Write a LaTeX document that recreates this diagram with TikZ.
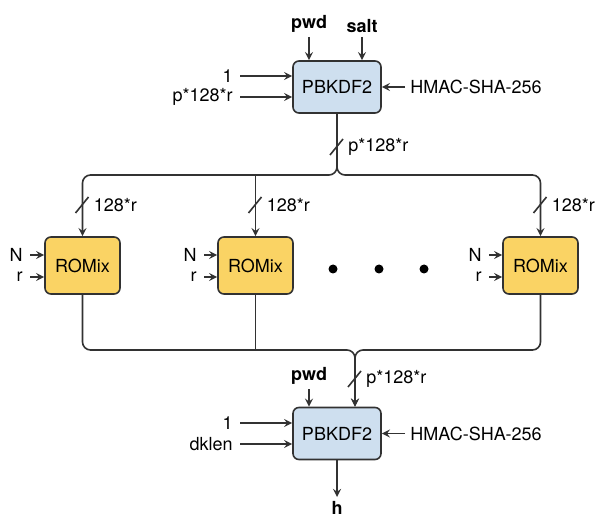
\documentclass[tikz,border=0pt]{standalone}
\usepackage{fontspec}
\setmainfont{TeX Gyre Heros}
\definecolor{ln}{RGB}{50,50,50}
\definecolor{kk}{RGB}{206,223,239}
\definecolor{mm}{RGB}{250,211,100}
\usetikzlibrary{positioning}

\begin{document}
\begin{tikzpicture}
	[x=0.5pt,y=-0.5pt,>=stealth,
	every node/.style={inner sep=0pt,font=\fontsize{9}{10}\selectfont},
	kdfbox/.style={rectangle, rounded corners=3pt, minimum width=44pt, minimum height=26pt, fill=kk, line width=0.8pt, draw=ln},
	mixbox/.style={rectangle, rounded corners=3pt, minimum width=37.5pt, minimum height=28.5pt, fill=mm, line width=0.8pt, draw=ln},
	wire/.style={line width=0.8pt, color=ln},
	inl/.style={anchor=east, inner sep=3.5pt},
	inr/.style={anchor=west, inner sep=2.5pt}]
	\useasboundingbox (0,0) rectangle (597,517);
	% first key derivation
	\node (k1) [kdfbox] at (337,87) {PBKDF2};
	\node (pwd1) [anchor=south, inner sep=2pt, font=\fontsize{9}{10}\selectfont\bfseries] at (309,37) {pwd};
	\node (salt) [anchor=south, inner sep=2pt, font=\fontsize{9}{10}\selectfont\bfseries] at (362,37) {salt};
	\node (one1) [inl] at (240,76) {1};
	\node (len1) [inl] at (240,97) {p*128*r};
	\node (hm1) [inr] at (405,87) {HMAC-SHA-256};
	\draw [wire,->] (pwd1) -- (pwd1 |- k1.north);
	\draw [wire,->] (salt) -- (salt |- k1.north);
	\draw [wire,->] (one1) -- (one1 -| k1.west);
	\draw [wire,->] (len1) -- (len1 -| k1.west);
	\draw [wire,->] (hm1) -- (k1.east);
	% mixing blocks
	\node (m1) [mixbox] at (82.5,265.5) {ROMix};
	\node (m2) [mixbox] at (255.5,265.5) {ROMix};
	\node (m3) [mixbox] at (540.5,265.5) {ROMix};
	\foreach \m/\x in {m1/30,m2/204,m3/489} {
		\node (\m n) [inl] at (\x,255) {N};
		\node (\m r) [inl] at (\x,277) {r};
		\draw [wire,->] (\m n) -- (\m n -| \m.west);
		\draw [wire,->] (\m r) -- (\m r -| \m.west);
	}
	\node (d1) [circle, minimum size=4.5pt, fill=black] at (333,269) {};
	\node (d2) [circle, minimum size=4.5pt, fill=black] at (379,269) {};
	\node (d3) [circle, minimum size=4.5pt, fill=black] at (424,269) {};
	% upper bus
	\coordinate (top) at (337,175);
	\draw [wire,->,rounded corners=4pt] (k1.south) -- (top) -| (m1.north);
	\draw [wire,->,rounded corners=4pt] (k1.south) -- (top) -| (m3.north);
	\draw [wire,->] (m2.north |- top) -- (m2.north);
	% second key derivation
	\node (k2) [kdfbox] at (337,433.5) {PBKDF2};
	\coordinate (bot) at (355,350);
	\draw [wire,->,rounded corners=4pt] (m1.south) |- (bot) -- (bot |- k2.north);
	\draw [wire,->,rounded corners=4pt] (m3.south) |- (bot) -- (bot |- k2.north);
	\draw [wire] (m2.south) -- (m2.south |- bot);
	\node (pwd2) [anchor=south, inner sep=2pt, font=\fontsize{9}{10}\selectfont\bfseries] at (309,389) {pwd};
	\node (one2) [inl] at (240,423) {1};
	\node (len2) [inl] at (240,444) {dklen};
	\node (hm2) [inr] at (405,433.5) {HMAC-SHA-256};
	\node (h) [anchor=north, inner sep=2pt, font=\fontsize{9}{10}\selectfont\bfseries] at (337,497) {h};
	\draw [wire,->] (pwd2) -- (pwd2 |- k2.north);
	\draw [wire,->] (one2) -- (one2 -| k2.west);
	\draw [wire,->] (len2) -- (len2 -| k2.west);
	\draw [wire,->] (hm2) -- (k2.east);
	\draw [wire,->] (k2.south) -- (h);
	% width marks
	\foreach \x/\y/\t [count=\i] in {337/147/p*128*r, 82.5/205/128*r, 255.5/205/128*r, 540.5/205/128*r, 355/379/p*128*r} {
		\draw [wire] (\x-7,\y+8) -- (\x+6,\y-8);
		\node (w\i) [anchor=west] at (\x+11,\y) {\t};
	}
\end{tikzpicture}
\end{document}
